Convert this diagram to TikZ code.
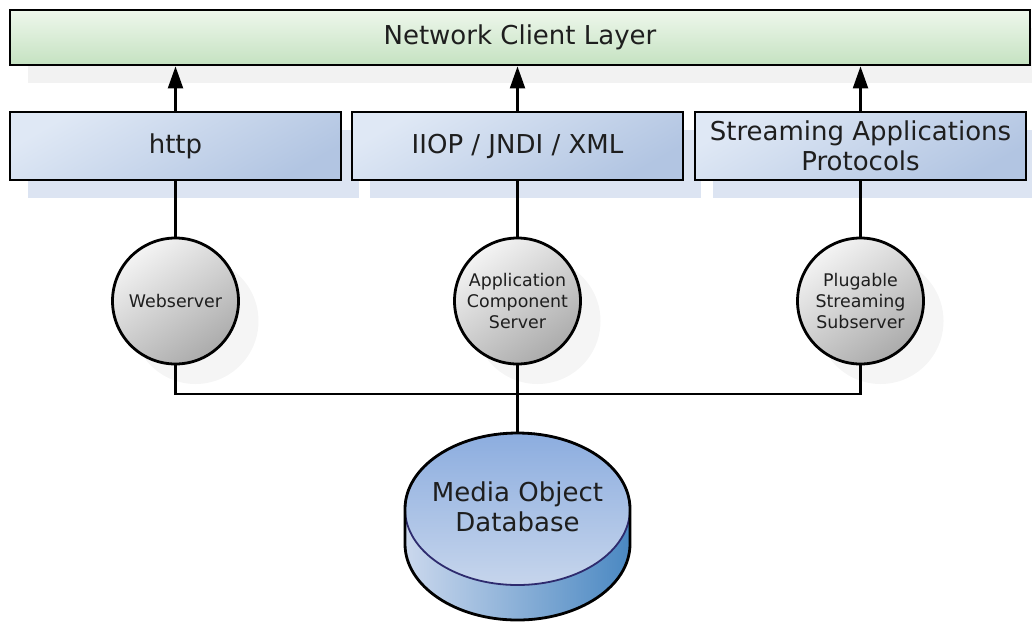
\documentclass[tikz,border=0pt]{standalone}
\usepackage{fontspec}
\setmainfont{DejaVu Sans}
\usetikzlibrary{shapes,arrows,arrows.meta,positioning,shadows}

\definecolor{barTop}{HTML}{EEF7EC}
\definecolor{barBot}{HTML}{C5E2C1}
\definecolor{boxTop}{HTML}{DFE8F5}
\definecolor{boxBot}{HTML}{B2C5E2}
\definecolor{boxShadow}{HTML}{DCE4F2}
\definecolor{greyShadow}{HTML}{F2F2F2}
\definecolor{ballShadow}{HTML}{F5F5F5}
\definecolor{ballLight}{HTML}{F4F4F4}
\definecolor{ballDark}{HTML}{ABABAB}
\definecolor{dbTop}{HTML}{8CADDF}
\definecolor{dbBot}{HTML}{C6D5EC}
\definecolor{dbLeft}{HTML}{CBD8ED}
\definecolor{dbRight}{HTML}{4A88C2}
\definecolor{dbEdge}{HTML}{2E2B6E}
\definecolor{ink}{HTML}{1E1E1E}

\tikzset{
  layer/.style={draw, line width=1.4pt, top color=barTop, bottom color=barBot,
    minimum width=510pt, minimum height=27.5pt, text=ink,
    font=\fontsize{13}{15}\selectfont,
    drop shadow={shadow xshift=9pt, shadow yshift=-9pt, fill=greyShadow, opacity=1}},
  proto/.style={draw, line width=1.4pt, top color=boxTop, bottom color=boxBot,
    shading angle=30, minimum width=165.5pt, minimum height=34pt, inner sep=1pt,
    align=center, text=ink, font=\fontsize{13}{15}\selectfont,
    drop shadow={shadow xshift=9pt, shadow yshift=-9pt, fill=boxShadow, opacity=1}},
  server/.style={circle, draw, line width=1.4pt, top color=ballLight, bottom color=ballDark,
    shading angle=35, minimum size=63pt, inner sep=0pt, align=center, text=ink,
    font=\fontsize{8.7}{10.5}\selectfont,
    drop shadow={shadow xshift=10pt, shadow yshift=-10pt, fill=ballShadow, opacity=1}},
  dbtop/.style={ellipse, draw=dbEdge, line width=0.9pt, top color=dbTop, bottom color=dbBot,
    minimum width=112.5pt, minimum height=76pt, inner sep=0pt, outer sep=0pt},
  dbtext/.style={align=center, text=ink, font=\fontsize{13}{15}\selectfont},
  wire/.style={line width=1.1pt},
  uparrow/.style={wire, -{Triangle[length=11pt,width=7.5pt]}}
}

\begin{document}
\begin{tikzpicture}[x=0.5pt, y=-0.5pt]
\useasboundingbox (0,0) rectangle (1032,623);

% top layer and protocols
\node[layer] (net) at (520,37.5) {Network Client Layer};
\node[proto] (http) at (175.5,146) {http};
\node[proto] (iiop) at (517.5,146) {IIOP / JNDI / XML};
\node[proto] (stream) at (860.5,146) {Streaming Applications\\Protocols};

% servers
\node[server] (web) at (175.5,301) {Webserver};
\node[server] (app) at (517.5,301) {Application\\Component\\Server};
\node[server] (plug) at (860.5,301) {Plugable\\Streaming\\Subserver};

% database
\fill[left color=dbLeft, right color=dbRight] (405,509) -- (405,544)
  arc[start angle=180, end angle=0, x radius=112.5, y radius=76] -- (630,509) -- cycle;
\node[dbtop] (db) at (517.5,509) {};
\draw[line width=1.4pt] (db.west) -- ++(0,35)
  arc[start angle=180, end angle=0, x radius=112.5, y radius=76] -- (db.east)
  arc[start angle=0, end angle=-180, x radius=112.5, y radius=76];
\node[dbtext] (dblabel) at (517.5,507) {Media Object\\Database};

% connectors
\draw[uparrow] (http) -- (http |- net.south);
\draw[uparrow] (iiop) -- (iiop |- net.south);
\draw[uparrow] (stream) -- (stream |- net.south);
\draw[wire] (http) -- (web);
\draw[wire] (iiop) -- (app);
\draw[wire] (stream) -- (plug);
\coordinate (bus) at (517.5,394);
\draw[wire] (web) |- (bus) -| (plug);
\draw[wire] (app) -- (db);
\end{tikzpicture}
\end{document}
